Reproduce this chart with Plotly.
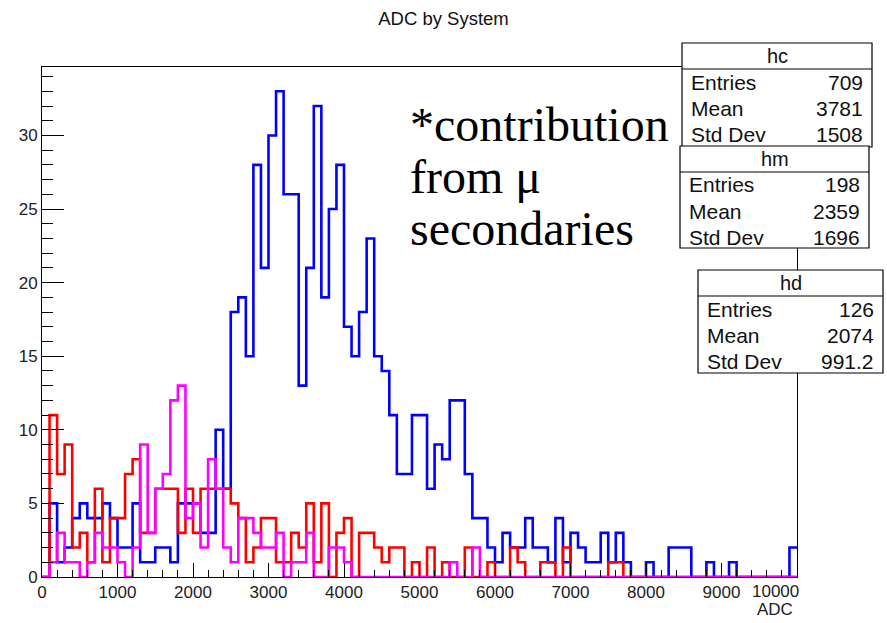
import numpy as np
import plotly.graph_objects as go

# ---------------- data ----------------
bin_lo, bin_hi, n_bins = 0, 10000, 100

hc_counts = [0, 5, 1, 2, 4, 5, 4, 4, 5, 4,
             2, 2, 5, 1, 1, 2, 2, 1, 5, 5,
             5, 3, 3, 10, 6, 18, 19, 15, 28, 21,
             30, 33, 26, 26, 13, 21, 32, 19, 25, 28,
             17, 15, 18, 23, 15, 14, 11, 7, 7, 11,
             11, 6, 9, 8, 12, 12, 7, 4, 4, 2,
             1, 3, 2, 2, 4, 2, 2, 1, 4, 1,
             3, 2, 1, 1, 3, 1, 3, 1, 0, 0,
             1, 0, 0, 2, 2, 2, 0, 0, 1, 0,
             0, 1, 0, 0, 0, 0, 0, 0, 0, 2]

hm_counts = [0, 11, 7, 9, 2, 3, 1, 6, 1, 4,
             4, 7, 8, 3, 3, 6, 6, 6, 3, 6,
             3, 6, 6, 6, 6, 5, 4, 1, 2, 4,
             4, 1, 1, 3, 2, 5, 1, 5, 0, 3,
             4, 0, 3, 3, 2, 1, 2, 2, 0, 1,
             0, 2, 0, 1, 0, 0, 2, 0, 0, 1,
             0, 0, 2, 1, 0, 0, 1, 1, 0, 2,
             0, 0, 0, 0, 0, 1, 1, 0, 0, 0,
             0, 0, 0, 0, 0, 0, 0, 0, 0, 0,
             0, 0, 0, 0, 0, 0, 0, 0, 0, 0]

hd_counts = [0, 1, 3, 1, 1, 0, 1, 3, 2, 2,
             1, 0, 2, 9, 3, 6, 7, 12, 13, 4,
             5, 2, 8, 6, 2, 1, 4, 4, 3, 2,
             2, 3, 0, 1, 1, 3, 0, 0, 2, 2,
             1, 0, 0, 0, 0, 0, 0, 0, 0, 0,
             0, 0, 0, 0, 1, 0, 0, 2, 0, 0,
             0, 0, 0, 0, 0, 0, 0, 0, 0, 0,
             0, 0, 0, 0, 0, 0, 0, 0, 0, 0,
             0, 0, 0, 0, 0, 0, 0, 0, 0, 0,
             0, 0, 0, 0, 0, 0, 0, 0, 0, 0]

hist_names = ["hc", "hm", "hd"]
hist_colors = ["#0000ff", "#ff0000", "#ff00ff"]
stat_labels = ["Entries", "Mean", "Std Dev"]
stat_values = {"hc": ["709", "3781", "1508"],
               "hm": ["198", "2359", "1696"],
               "hd": ["126", "2074", "991.2"]}

x_ticks = list(range(0, 10001, 1000))
x_tick_text = [str(v) for v in x_ticks]
y_ticks = [0, 5, 10, 15, 20, 25, 30]
note_lines = ["*contribution", "from \u03bc", "secondaries"]

# ---------------- figure ----------------
W, H = 887, 623
L, R, T, B = 42, 797, 67, 577   # plot-area pixels

def px(x):
    return (x - L) / (R - L)

def py(y):
    return (B - y) / (B - T)

edges = np.linspace(bin_lo, bin_hi, n_bins + 1)
fig = go.Figure()
for name, counts, col in zip(hist_names, [hc_counts, hm_counts, hd_counts], hist_colors):
    yv = list(counts) + [counts[-1]]
    fig.add_trace(go.Scatter(x=edges, y=yv, mode="lines", line=dict(color=col, width=2.6, shape="hv"),
                             name=name, showlegend=False, hoverinfo="skip"))

ymax = max(hc_counts) * 1.05

# last x label is shifted left (as ROOT does) and drawn separately
tick_text_axis = x_tick_text[:-1] + [""]

fig.update_layout(
    width=W, height=H,
    margin=dict(l=L, r=W - R, t=T, b=H - B, pad=0),
    plot_bgcolor="white", paper_bgcolor="white",
    font=dict(family="Liberation Sans, Arial", color="#222", size=17),
    title=dict(text="ADC by System", x=0.5, xanchor="center", y=1 - 19 / H, yanchor="middle",
               font=dict(size=18.5, color="#111")),
    xaxis=dict(range=[bin_lo, bin_hi], tickvals=x_ticks, ticktext=tick_text_axis, ticks="inside",
               ticklen=14, tickwidth=1,
               tickcolor="black", showline=True, linecolor="black", linewidth=1, mirror=True,
               showgrid=False, zeroline=False,
               minor=dict(dtick=200, ticks="inside", ticklen=7, tickcolor="black", showgrid=False),
               tickfont=dict(size=17)),
    yaxis=dict(range=[0, ymax], tickvals=y_ticks, ticks="inside", ticklen=22, tickwidth=1,
               tickcolor="black", showline=True, linecolor="black", linewidth=1, mirror=True,
               showgrid=False, zeroline=False,
               minor=dict(dtick=1, ticks="inside", ticklen=11, tickcolor="black", showgrid=False),
               tickfont=dict(size=17)),
)

ann = []
ann.append(dict(text=x_tick_text[-1], x=px(801), y=py(591), xref="paper", yref="paper",
                xanchor="right", yanchor="middle", showarrow=False, font=dict(size=17, color="#222")))
ann.append(dict(text="ADC", x=px(795), y=py(609), xref="paper", yref="paper", xanchor="right",
                yanchor="middle", showarrow=False, font=dict(size=17, color="#222")))

# note text
for i, line in enumerate(note_lines):
    ann.append(dict(text=line, x=px(408), y=py(124 + 52 * i), xref="paper", yref="paper",
                    xanchor="left", yanchor="middle", showarrow=False,
                    font=dict(family="Liberation Serif, Times New Roman", size=48, color="black")))

# stat boxes
boxes = {"hc": (682, 43, 872, 147), "hm": (680, 146, 869, 248), "hd": (698, 270, 883, 373)}
shapes = []
for name in hist_names:
    x0, y0, x1, y1 = boxes[name]
    shapes.append(dict(type="rect", xref="paper", yref="paper", x0=px(x0), x1=px(x1), y0=py(y1), y1=py(y0),
                       line=dict(color="black", width=1.2), fillcolor="white", layer="above"))
    shapes.append(dict(type="line", xref="paper", yref="paper", x0=px(x0), x1=px(x1),
                       y0=py(y0 + 26), y1=py(y0 + 26), line=dict(color="black", width=1.2), layer="above"))
    ann.append(dict(text=name, x=px((x0 + x1) / 2), y=py(y0 + 13), xref="paper", yref="paper",
                    xanchor="center", yanchor="middle", showarrow=False, font=dict(size=20, color="#111")))
    for k, (lab, val) in enumerate(zip(stat_labels, stat_values[name])):
        yy = y0 + 26 + 13 + 26 * k
        ann.append(dict(text=lab, x=px(x0 + 7), y=py(yy), xref="paper", yref="paper",
                        xanchor="left", yanchor="middle", showarrow=False, font=dict(size=21, color="#111")))
        ann.append(dict(text=val, x=px(x1 - 7), y=py(yy), xref="paper", yref="paper",
                        xanchor="right", yanchor="middle", showarrow=False, font=dict(size=21, color="#111")))

fig.update_layout(annotations=ann, shapes=shapes)
fig.write_html("out.html", config={"displayModeBar": False, "staticPlot": True})

# remove default page margin so the figure sits at the window's top-left corner
with open("out.html", "r", encoding="utf-8") as f:
    html = f.read()
html = html.replace("<head>", "<head><style>html,body{margin:0;padding:0;overflow:hidden;}</style>", 1)
with open("out.html", "w", encoding="utf-8") as f:
    f.write(html)
